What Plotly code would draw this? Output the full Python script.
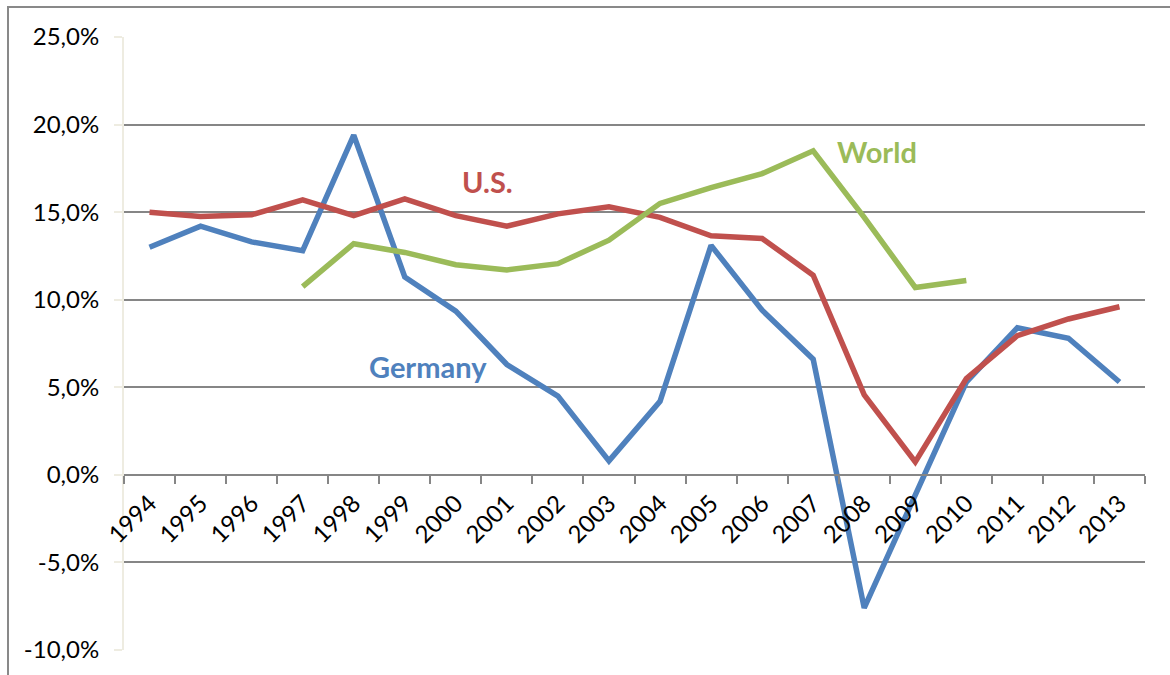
import plotly.graph_objects as go

years = [str(y) for y in range(1994, 2014)]

germany = [13.0, 14.2, 13.3, 12.8, 19.4, 11.3, 9.35, 6.3, 4.5, 0.8,
           4.2, 13.1, 9.4, 6.6, -7.6, -1.2, 5.3, 8.4, 7.8, 5.3]
us = [15.0, 14.75, 14.85, 15.7, 14.8, 15.75, 14.8, 14.2, 14.9, 15.3,
      14.7, 13.65, 13.5, 11.4, 4.57, 0.74, 5.5, 7.95, 8.9, 9.6]
world = [None, None, None, 10.75, 13.2, 12.7, 12.0, 11.7, 12.06, 13.4,
         15.5, 16.4, 17.2, 18.5, 14.7, 10.7, 11.1, None, None, None]

series_names = ["Germany", "U.S.", "World"]
series_colors = ["#4F81BD", "#C0504D", "#9BBB59"]

y_ticks = [-10, -5, 0, 5, 10, 15, 20, 25]
y_tick_text = ["-10,0%", "-5,0%", "0,0%", "5,0%", "10,0%", "15,0%", "20,0%", "25,0%"]

# series label anchors: (category position index, value)
label_pos = [(5.45, 6.17), (6.63, 16.74), (14.25, 18.46)]

FONT = "Lato"

fig = go.Figure()
for name, vals, col in zip(series_names, [germany, us, world], series_colors):
    fig.add_trace(go.Scatter(x=years, y=vals, mode="lines", name=name,
                             line=dict(color=col, width=5.5),
                             connectgaps=False, showlegend=False))

for (cx, val), name, col in zip(label_pos, series_names, series_colors):
    fig.add_annotation(x=cx, y=val, text="<b>%s</b>" % name, showarrow=False,
                       font=dict(family=FONT, size=29, color=col))

fig.update_layout(
    width=1170, height=675,
    margin=dict(l=124, r=25, t=37, b=25),
    paper_bgcolor="white", plot_bgcolor="white",
    font=dict(family=FONT, size=22, color="black"),
    xaxis=dict(type="category", categoryorder="array", categoryarray=years,
               anchor="free", position=10/35,
               tickson="boundaries", ticks="outside", ticklen=8, tickwidth=2,
               tickcolor="#868686", showline=True, linecolor="#868686", linewidth=2,
               showgrid=False, tickangle=-45, tickfont=dict(family=FONT, size=24),
               ticklabelstandoff=4,
               range=[-0.5, 19.5], zeroline=False),
    yaxis=dict(range=[-10, 25], tickmode="array", tickvals=y_ticks, ticktext=y_tick_text,
               showgrid=True, gridcolor="#868686", gridwidth=2,
               showline=True, linecolor="#EEECE1", linewidth=2,
               ticks="outside", ticklen=8, tickcolor="#EEECE1", tickwidth=2,
               zeroline=False, tickfont=dict(family=FONT, size=24),
               ticklabelstandoff=10),
)

# outer chart frame
fig.add_shape(type="rect", xref="paper", yref="paper",
              x0=(8 - 124) / 1021, x1=(1180 - 124) / 1021,
              y0=(650 - 690) / 613, y1=(650 - 7) / 613,
              line=dict(color="#898989", width=2), layer="below")

fig.write_html("out.html", config={"displayModeBar": False},
               post_script="document.body.style.margin='0';")
